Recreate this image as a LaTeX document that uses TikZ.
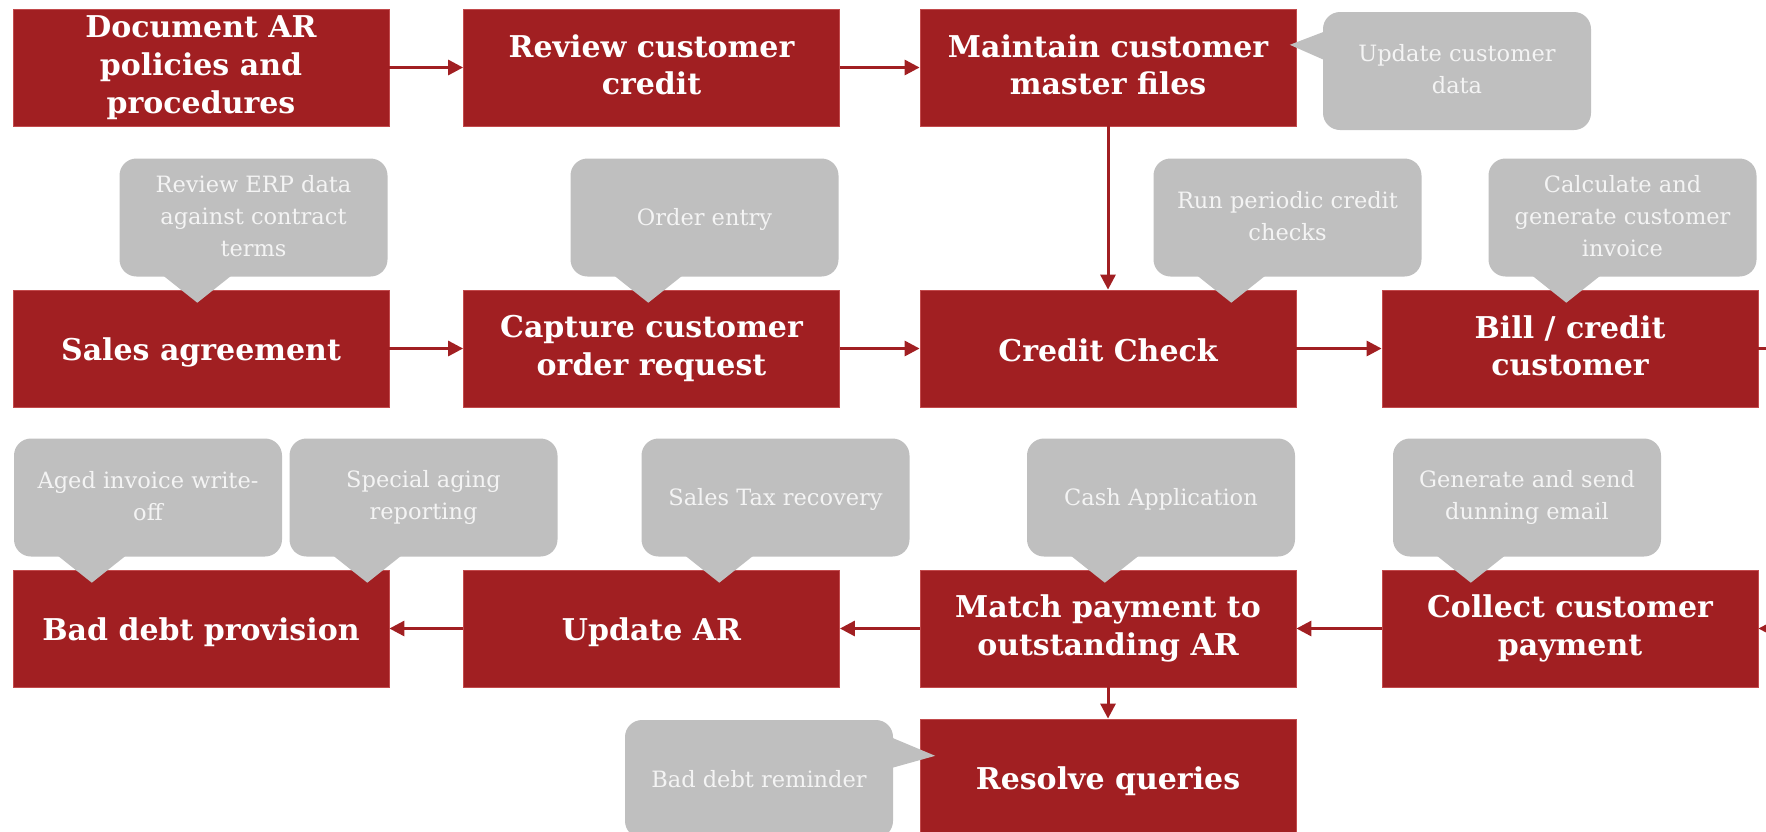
\documentclass[tikz,border=0pt]{standalone}
\usepackage{fontspec}
\setmainfont{DejaVu Serif}
\usetikzlibrary{arrows.meta,calc}

\definecolor{procred}{HTML}{A11F22}
\definecolor{procedge}{HTML}{C24A4C}
\definecolor{notegray}{HTML}{BFBFBF}
\definecolor{notetext}{HTML}{F4F4F4}

\tikzset{
  stepbox/.style={fill=procred, draw=procedge, line width=0.8pt,
    minimum width=376pt, minimum height=117pt, inner sep=0pt,
    align=center, text=white,
    font=\bfseries\fontsize{30}{37.7}\selectfont,
    execute at begin node={\rule{0pt}{31pt}},
    execute at end node={\rule[-6pt]{0pt}{6pt}}},
  note/.style={fill=notegray, rounded corners=17pt,
    minimum width=268pt, minimum height=118pt, inner sep=0pt,
    align=center, text=notetext,
    font=\fontsize{22.5}{32}\selectfont,
    execute at begin node={\rule{0pt}{21pt}},
    execute at end node={\rule[-4pt]{0pt}{4pt}}},
  flow/.style={procred, line width=3pt,
    -{Triangle[length=15pt,width=15pt]}},
  plainflow/.style={procred, line width=3pt},
}

\begin{document}
\begin{tikzpicture}[x=1pt,y=-1pt]
\useasboundingbox (0,0) rectangle (1766,831);
\clip (0,0) rectangle (1766,831);

% process steps
\node[stepbox] (doc)     at (201,67.5)    {Document AR\\policies and\\procedures};
\node[stepbox] (review)  at (651.5,67.5)  {Review customer\\credit};
\node[stepbox] (master)  at (1108,67.5)   {Maintain customer\\master files};

\node[stepbox] (sales)   at (201,348.5)   {Sales agreement};
\node[stepbox] (capture) at (651.5,348.5) {Capture customer\\order request};
\node[stepbox] (credit)  at (1108,348.5)  {Credit Check};
\node[stepbox] (bill)    at (1570,348.5)  {Bill / credit\\customer};

\node[stepbox] (baddebt) at (201,628.5)   {Bad debt provision};
\node[stepbox] (update)  at (651.5,628.5) {Update AR};
\node[stepbox] (match)   at (1108,628.5)  {Match payment to\\outstanding AR};
\node[stepbox] (collect) at (1570,628.5)  {Collect customer\\payment};

\node[stepbox] (resolve) at (1108,777.5)  {Resolve queries};

% loose ends running off the right edge
\coordinate (billout)   at (1800,348.5);
\coordinate (collectin) at (1800,628.5);

% connectors
\draw[flow] (doc) -- (review);
\draw[flow] (review) -- (master);
\draw[flow] (master) -- (credit);
\draw[flow] (sales) -- (capture);
\draw[flow] (capture) -- (credit);
\draw[flow] (credit) -- (bill);
\draw[plainflow] (bill) -- (billout);
\draw[flow] (collectin) -- (collect);
\draw[flow] (collect) -- (match);
\draw[flow] (match) -- (update);
\draw[flow] (update) -- (baddebt);
\draw[flow] (match) -- (resolve);

% callouts
\node[note] (nupdate)  at (1457,71)    {Update customer\\data};
\node[note] (nerp)     at (253.5,217.5) {Review ERP data\\against contract\\terms};
\node[note] (norder)   at (704.5,217.5) {Order entry};
\node[note] (nrun)     at (1287.5,217.5) {Run periodic credit\\checks};
\node[note] (ncalc)    at (1622.5,217.5) {Calculate and\\generate customer\\invoice};
\node[note] (naged)    at (148,497.5)   {Aged invoice write-\\off};
\node[note] (nspecial) at (423.5,497.5) {Special aging\\reporting};
\node[note] (ntax)     at (775.5,497.5) {Sales Tax recovery};
\node[note] (ncash)    at (1161,497.5)  {Cash Application};
\node[note] (ndunning) at (1527,497.5)  {Generate and send\\dunning email};
\node[note] (nremind)  at (759,779)     {Bad debt reminder};

% callout pointers hanging below the bubbles
\foreach \n in {nerp,norder,nrun,ncalc,naged,nspecial,ntax,ncash,ndunning}{
  \fill[notegray] ($(\n.south west)+(44,-1)$) -- ($(\n.south west)+(78,26)$)
                  -- ($(\n.south west)+(112,-1)$) -- cycle;
}
% side pointers
\fill[notegray] ($(nupdate.north west)+(1,20)$) -- ($(nupdate.north west)+(-33,33)$)
                -- ($(nupdate.north west)+(1,48)$) -- cycle;
\fill[notegray] ($(nremind.north east)+(-1,18)$) -- ($(nremind.north east)+(42,36)$)
                -- ($(nremind.north east)+(-1,48)$) -- cycle;
\end{tikzpicture}
\end{document}
